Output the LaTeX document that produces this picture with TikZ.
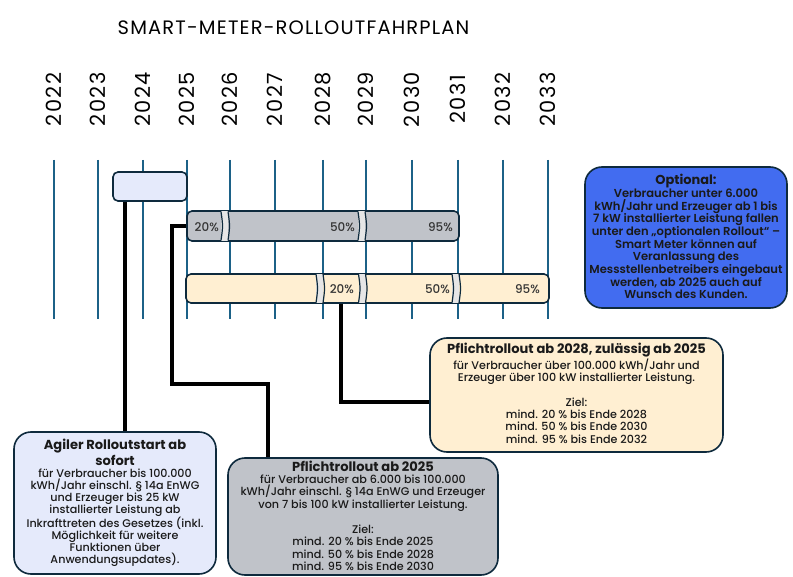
\documentclass[tikz,border=0pt]{standalone}
\usepackage{fontspec}
\setmainfont{Poppins}
\newfontfamily\titlefont{Poppins}
\newfontfamily\medfont{Poppins Medium}
\newfontfamily\semifont{Poppins SemiBold}
\definecolor{gridc}{HTML}{1C6187}
\definecolor{edgec}{HTML}{0E2A3D}
\definecolor{lblue}{HTML}{E5EAFB}
\definecolor{greyc}{HTML}{C0C3C9}
\definecolor{cream}{HTML}{FFEFD2}
\definecolor{optc}{HTML}{426CF0}
\definecolor{divc}{HTML}{E6E6E6}
\definecolor{textc}{HTML}{1A1A1A}
\definecolor{barlbl}{HTML}{333333}
\tikzset{
  gridline/.style={draw=gridc, line width=1.6bp},
  frame/.style={draw=edgec, line width=1.6bp, inner sep=0pt},
  barbox/.style={frame, rounded corners=5bp},
  bigbox/.style={frame, rounded corners=17bp},
  conn/.style={line width=4bp, draw=black, line join=miter},
  yearlbl/.style={rotate=90, font=\titlefont\fontsize{21}{21}\selectfont\addfontfeature{LetterSpace=7}, text=black, inner sep=0pt},
  headtxt/.style={align=center, font=\bfseries\fontsize{13.1}{16}\selectfont, text=textc, inner sep=0pt},
  bodytxt/.style={align=center, font=\medfont\fontsize{11.2}{12.5}\selectfont, text=textc, inner sep=0pt},
  pct/.style={font=\medfont\fontsize{12}{12}\selectfont, text=barlbl, inner sep=0pt, anchor=east},
  brk/.pic={
    \fill[divc] (-3.5,-14.5) rectangle (3.5,14.5);
    \draw[edgec, line width=1.2bp] (-3.5,-14.5) .. controls (-1.5,0) .. (-3.5,14.5);
    \draw[edgec, line width=1.2bp] (3.5,-14.5) .. controls (5.5,0) .. (3.5,14.5);
  }
}
\begin{document}
\begin{tikzpicture}[x=1bp,y=-1bp]
\useasboundingbox[fill=white] (0,0) rectangle (793,577);

% title and years
\node[font=\titlefont\fontsize{19.5}{20}\selectfont\addfontfeature{LetterSpace=6}, text=black, inner sep=0pt] (title) at (293.5,28) {SMART-METER-ROLLOUTFAHRPLAN};
\foreach \x/\yr in {54/2022,98/2023,143/2024,187/2025,230/2026,275/2027,323/2028,366/2029,412/2030,458/2031,503/2032,548/2033}{
  \node[yearlbl] (y\yr) at (\x,99.5) {\yr};
  \draw[gridline] (\x,160) -- (\x,319);
}

% bars
\node[barbox, fill=lblue, minimum width=74bp, minimum height=29bp] (bbox) at (150,186.5) {};
\node[barbox, fill=greyc, minimum width=272bp, minimum height=30bp] (gbar) at (323,226) {};
\node[barbox, fill=cream, minimum width=363bp, minimum height=29bp] (cbar) at (367.5,288.5) {};

% dividers
\pic at (224.5,226) {brk};
\pic at (361.5,226) {brk};
\pic at (319.5,288.5) {brk};
\pic at (362,288.5) {brk};
\pic at (455.5,288.5) {brk};

% percentages
\node[pct] (g20) at (219,227) {20\%};
\node[pct] (g50) at (355,227) {50\%};
\node[pct] (g95) at (453,227) {95\%};
\node[pct] (c20) at (354,289.5) {20\%};
\node[pct] (c50) at (450,289.5) {50\%};
\node[pct] (c95) at (540,289.5) {95\%};

% big boxes
\node[bigbox, fill=optc, minimum width=202bp, minimum height=141bp] (opt) at (686,237.5) {};
\node[bigbox, fill=cream, minimum width=293bp, minimum height=114bp] (p28) at (576.5,395) {};
\node[bigbox, fill=lblue, minimum width=202bp, minimum height=142bp] (agil) at (115,503) {};
\node[bigbox, fill=greyc, minimum width=270bp, minimum height=117bp] (p25) at (363,516.5) {};

% connectors
\coordinate (j1) at (125,0);
\coordinate (j2) at (172,384);
\coordinate (j3) at (268,384);
\coordinate (j4) at (341,402);
\draw[conn] (bbox.south -| j1) -- (agil.north -| j1);
\draw[conn] (gbar.west) -| (j2) -- (j3) -- (j3 |- p25.north);
\draw[conn] (cbar.south -| j4) -- (j4) -- (p28.west |- j4);

% texts
\node[headtxt, font=\bfseries\fontsize{13}{15}\selectfont] (optH) at (686,181.5) {Optional:};
\node[bodytxt, anchor=north, font=\semifont\fontsize{11.6}{12.75}\selectfont] (optB) at (686,188.5) {Verbraucher unter 6.000\\kWh/Jahr und Erzeuger ab 1 bis\\7 kW installierter Leistung fallen\\unter den „optionalen Rollout“ –\\Smart Meter können auf\\Veranlassung des\\Messstellenbetreibers eingebaut\\werden, ab 2025 auch auf\\Wunsch des Kunden.};

\node[headtxt] (p28H) at (576.5,350.5) {Pflichtrollout ab 2028, zulässig ab 2025};
\node[bodytxt, anchor=north, font=\medfont\fontsize{11.2}{12.35}\selectfont] (p28B) at (576.5,358.5) {für Verbraucher über 100.000 kWh/Jahr und\\Erzeuger über 100 kW installierter Leistung.\\[0pt] \\Ziel:\\mind. 20 \% bis Ende 2028\\mind. 50 \% bis Ende 2030\\mind. 95 \% bis Ende 2032};

\node[headtxt, anchor=north] (agilH) at (115,438.5) {Agiler Rolloutstart ab\\sofort};
\node[bodytxt, anchor=north, font=\medfont\fontsize{11.2}{12}\selectfont] (agilB) at (115,468.5) {für Verbraucher bis 100.000\\kWh/Jahr einschl. § 14a EnWG\\und Erzeuger bis 25 kW\\installierter Leistung ab\\Inkrafttreten des Gesetzes (inkl.\\Möglichkeit für weitere\\Funktionen über\\Anwendungsupdates).};

\node[headtxt] (p25H) at (363,466.5) {Pflichtrollout ab 2025};
\node[bodytxt, anchor=north, font=\medfont\fontsize{11.2}{12.57}\selectfont] (p25B) at (363,474.5) {für Verbraucher ab 6.000 bis 100.000\\kWh/Jahr einschl. § 14a EnWG und Erzeuger\\von 7 bis 100 kW installierter Leistung.\\[0pt] \\Ziel:\\mind. 20 \% bis Ende 2025\\mind. 50 \% bis Ende 2028\\mind. 95 \% bis Ende 2030};
\end{tikzpicture}
\end{document}
